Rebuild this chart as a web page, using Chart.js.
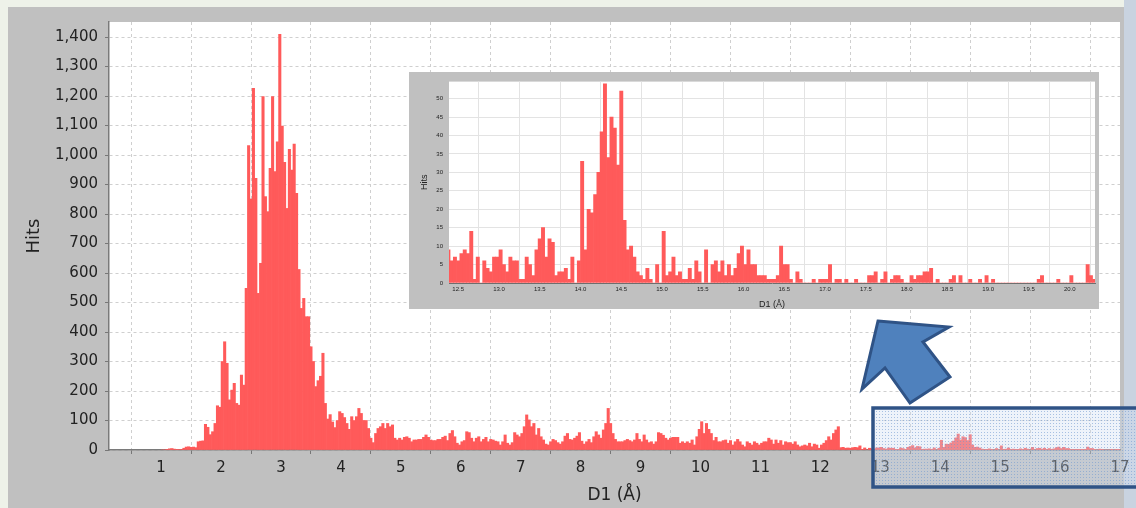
<!DOCTYPE html>
<html>
<head>
<meta charset="utf-8">
<script src="https://cdn.jsdelivr.net/npm/chart.js@4.4.0/dist/chart.umd.min.js"></script>
<style>
  html, body { margin: 0; padding: 0; }
  body { width: 1136px; height: 508px; position: relative; overflow: hidden; background: #eef2e9; }
  #panel { position: absolute; left: 8px; top: 7px; width: 1116px; height: 501px; background: #c0c0c0; }
  #edge { position: absolute; left: 1124px; top: 0; width: 12px; height: 508px; background: #c9d3e0; }
  #main { position: absolute; left: 0; top: 0; }
  #inset { position: absolute; left: 409px; top: 72px; background: #c0c0c0; }
  #marks { position: absolute; left: 0; top: 0; pointer-events: none; }
</style>
</head>
<body>
<div id="panel"></div>
<div id="edge"></div>
<canvas id="main" width="1136" height="508"></canvas>
<canvas id="inset" width="690" height="237"></canvas>
<svg id="marks" width="1136" height="508">
  <defs>
    <pattern id="dots" width="3" height="3" patternUnits="userSpaceOnUse">
      <rect width="3" height="3" fill="rgba(205,220,240,0.35)"></rect>
      <rect width="1" height="1" fill="rgba(110,150,205,0.55)"></rect>
    </pattern>
  </defs>
  <rect x="873" y="408" width="270" height="79" fill="url(#dots)" stroke="#2f5386" stroke-width="3.5"></rect>
  <polygon points="878,321 949,327 923,342 950,377 910,403 885,368 862,389" fill="#4f81bd" stroke="#2f5386" stroke-width="3" stroke-linejoin="miter"></polygon>
</svg>
<script>
// histogram bins are 0.04 Å wide
const binWidth = 0.04

// main histogram, bins from 1.00 to 12.32 Å
const mainHits = [
  0, 0, 1, 4, 5, 3, 1, 2, 2, 6,
  10, 11, 9, 10, 8, 28, 30, 31, 87, 77,
  52, 62, 90, 150, 145, 300, 367, 294, 170, 203,
  226, 158, 152, 254, 220, 548, 1032, 851, 1226, 921,
  531, 633, 1198, 859, 808, 955, 1198, 944, 1045, 1409,
  1098, 975, 819, 1019, 949, 1037, 870, 612, 480, 514,
  452, 452, 350, 300, 215, 235, 250, 328, 158, 105,
  120, 95, 76, 100, 130, 124, 110, 90, 70, 113,
  100, 113, 141, 124, 100, 100, 73, 40, 25, 56,
  73, 79, 90, 73, 90, 79, 85, 40, 34, 40,
  34, 43, 45, 40, 28, 34, 34, 36, 36, 43,
  51, 43, 34, 32, 32, 36, 36, 43, 47, 32,
  56, 66, 45, 23, 17, 28, 32, 62, 59, 40,
  28, 40, 45, 28, 36, 43, 28, 36, 34, 30,
  28, 17, 28, 51, 23, 17, 25, 59, 51, 45,
  56, 79, 119, 102, 79, 90, 51, 73, 45, 34,
  20, 17, 28, 36, 32, 25, 20, 28, 47, 56,
  36, 34, 40, 47, 59, 30, 20, 28, 36, 25,
  45, 62, 51, 40, 68, 90, 141, 90, 56, 36,
  28, 28, 28, 32, 36, 32, 28, 34, 56, 36,
  28, 51, 34, 25, 28, 20, 28, 59, 56, 50,
  40, 34, 40, 43, 43, 43, 23, 28, 23, 28,
  23, 34, 17, 45, 70, 96, 56, 90, 70, 56,
  32, 43, 28, 28, 32, 34, 23, 32, 17, 28,
  36, 28, 17, 11, 28, 23, 17, 28, 23, 17,
  23, 28, 28, 40, 34, 20, 34, 23, 32, 17,
  28, 25, 25, 20, 28, 17, 11, 14, 17, 14,
  23, 11, 20, 17, 6, 17, 23, 32, 45, 34,
  56, 68, 79, 8
]
const mainStart = 1.0

// zoomed tail, bins from 12.36 to 20.28 Å
const insetHits = [
  9,
  6, 7, 6, 8, 9, 8, 14, 1, 7, 0, 6, 4, 3, 7, 7, 9, 5, 3, 7, 6, 6, 1, 1, 7, 5, 2, 9, 12,
  15,
  7, 12, 11, 2, 3, 3, 4, 1, 7, 0, 6,
  33, 9, 20, 19, 24, 30, 41, 54, 34, 45, 42, 32, 52, 17,
  9, 10, 7, 3, 2, 1, 4, 1, 0, 5, 0,
  14, 2, 3, 7, 2, 3, 1, 1, 4, 1, 6, 3, 0,
  9, 0, 5, 6, 3, 6, 2, 5, 2, 4, 8, 10, 5, 9, 5, 5, 2, 2, 2, 1, 1, 1, 2, 10, 5, 5, 1, 0, 3, 1,
  0, 0, 0, 1, 0, 1, 1, 1,
  5,
  0, 1, 1, 0, 1, 0, 0, 1, 0, 0, 0, 2, 2,
  3,
  0, 1, 3, 0, 1, 2, 2, 1, 0, 0, 2, 1, 2, 2, 3, 3, 4, 0, 1,
  0, 0, 0, 1, 2, 0, 2, 0, 0, 1, 0, 0, 1, 0, 2, 0, 1,
  0, 0, 0, 0, 0, 0, 0, 0, 0, 0, 0, 0, 0,
  1, 2, 0, 0, 0, 0, 1, 0, 0, 0, 2, 0, 0, 0, 0, 5, 2, 1
]
const insetStart = 12.36

const barRed = '#ff5a5a'
const textCol = '#222'

const plotBg = {
  id: 'plotBg',
  beforeDraw(chart) {
    const { ctx, chartArea: a } = chart
    ctx.save()
    ctx.fillStyle = '#ffffff'
    ctx.fillRect(a.left, a.top, a.right - a.left, a.bottom - a.top)
    ctx.restore()
  }
}

const toPoints = (arr, start) => arr.map((v, i) => ({ x: start + binWidth * (i + 0.5), y: v }))

new Chart(document.getElementById('main'), {
  type: 'bar',
  data: {
    datasets: [{
      data: toPoints(mainHits.concat(insetHits), mainStart),
      backgroundColor: barRed,
      borderWidth: 0,
      barPercentage: 1,
      categoryPercentage: 1
    }]
  },
  options: {
    responsive: false,
    animation: false,
    layout: { padding: { top: 22, right: 16, bottom: 0, left: 0 } },
    plugins: { legend: { display: false }, tooltip: { enabled: false } },
    scales: {
      x: {
        type: 'linear',
        min: 0.13,
        max: 17,
        offset: false,
        afterFit: s => { s.height = 58 },
        ticks: {
          stepSize: 1, includeBounds: false, autoSkip: false, maxRotation: 0,
          padding: 5, color: textCol,
          font: { family: 'DejaVu Sans', size: 15 }
        },
        grid: { color: '#cfcfcf', tickLength: 4, tickColor: '#777' },
        border: { color: '#7a7a7a', width: 1.5, dash: [3, 3] },
        title: {
          display: true, text: 'D1 (Å)', color: textCol,
          font: { family: 'DejaVu Sans', size: 17 },
          padding: { top: 0, bottom: 2 }
        }
      },
      y: {
        min: 0,
        max: 1451,
        afterFit: s => { s.width = 109 },
        ticks: {
          stepSize: 100, includeBounds: false, padding: 7, color: textCol,
          font: { family: 'DejaVu Sans', size: 15 },
          callback: v => v.toLocaleString('en-US')
        },
        grid: { color: '#cfcfcf', tickLength: 4, tickColor: '#777' },
        border: { color: '#7a7a7a', width: 1.5, dash: [3, 3] },
        title: {
          display: true, text: 'Hits', color: textCol,
          font: { family: 'DejaVu Sans', size: 18 },
          padding: { top: 24, bottom: 0 }
        }
      }
    }
  },
  plugins: [plotBg]
})

new Chart(document.getElementById('inset'), {
  type: 'bar',
  data: {
    datasets: [{
      data: toPoints(insetHits, insetStart),
      backgroundColor: barRed,
      borderWidth: 0,
      barPercentage: 1,
      categoryPercentage: 1
    }]
  },
  options: {
    responsive: false,
    animation: false,
    layout: { padding: { top: 5, right: 4, bottom: 0, left: 0 } },
    plugins: { legend: { display: false }, tooltip: { enabled: false } },
    scales: {
      x: {
        type: 'linear',
        min: 12.387,
        max: 20.31,
        offset: false,
        afterFit: s => { s.height = 26 },
        ticks: {
          stepSize: 0.5, includeBounds: false, autoSkip: false, maxRotation: 0,
          padding: 3, color: textCol,
          font: { family: 'Liberation Sans', size: 6 },
          callback: v => v.toFixed(1)
        },
        grid: { color: '#e3e3e3', drawTicks: false },
        border: { color: '#6e6e6e', width: 1 },
        title: {
          display: true, text: 'D1 (Å)', color: textCol,
          font: { family: 'Liberation Sans', size: 9, lineHeight: 1 },
          padding: 0
        }
      },
      y: {
        min: 0,
        max: 54.6,
        afterFit: s => { s.width = 40 },
        ticks: {
          stepSize: 5, includeBounds: false, padding: 6, color: textCol,
          font: { family: 'Liberation Sans', size: 6 }
        },
        grid: { color: '#e3e3e3', drawTicks: false },
        border: { display: false },
        title: {
          display: true, text: 'Hits', color: textCol,
          font: { family: 'Liberation Sans', size: 9, lineHeight: 1 },
          padding: { top: 11, bottom: 0 }
        }
      }
    }
  },
  plugins: [plotBg]
})
</script>
</body>
</html>
